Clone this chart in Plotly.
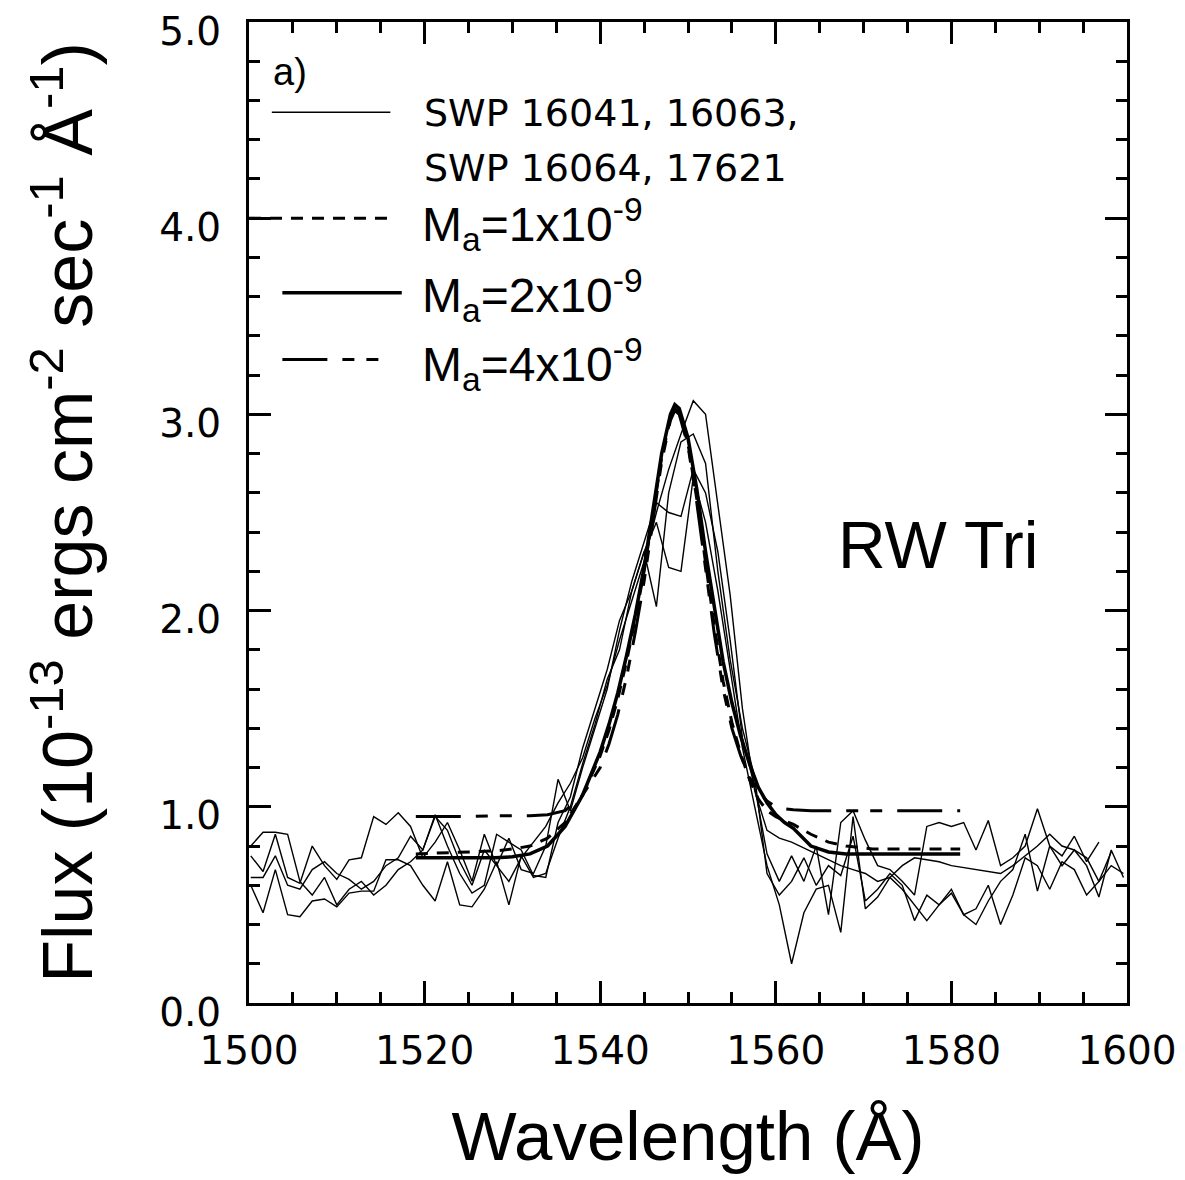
import plotly.graph_objects as go

# ---------------- data ----------------
WAVE = [1500.2, 1501.6, 1503.0, 1504.4, 1505.8, 1507.2, 1508.6, 1510.0, 1511.4, 1512.8,
        1514.2, 1515.6, 1517.0, 1518.4, 1519.8, 1521.2, 1522.6, 1524.0, 1525.4, 1526.8,
        1528.2, 1529.6, 1531.0, 1532.4, 1533.8, 1535.2, 1536.6, 1538.0, 1539.4, 1540.8,
        1542.2, 1543.6, 1545.0, 1546.4, 1547.8, 1549.2, 1550.6, 1552.0, 1553.4, 1554.8,
        1556.2, 1557.6, 1559.0, 1560.4, 1561.8, 1563.2, 1564.6, 1566.0, 1567.4, 1568.8,
        1570.2, 1571.6, 1573.0, 1574.4, 1575.8, 1577.2, 1578.6, 1580.0, 1581.4, 1582.8,
        1584.2, 1585.6, 1587.0, 1588.4, 1589.8, 1591.2, 1592.6, 1594.0, 1595.4, 1596.8,
        1598.2, 1599.6]

SWP_16041 = [0.80, 0.87, 0.87, 0.86, 0.62, 0.55, 0.64, 0.50, 0.58, 0.62,
             0.55, 0.60, 0.68, 0.72, 0.78, 0.95, 0.88, 0.72, 0.60, 0.78,
             0.70, 0.62, 0.74, 0.82, 0.90, 1.02, 1.12, 1.25, 1.45, 1.62,
             1.85, 2.05, 2.25, 2.50, 2.72, 2.90, 3.07, 3.00, 2.55, 2.08,
             1.50, 1.08, 0.88, 0.84, 0.82, 0.79, 0.76, 0.73, 0.70, 0.68,
             0.66, 0.62, 0.64, 0.70, 0.74, 0.73, 0.72, 0.70, 0.69, 0.68,
             0.67, 0.66, 0.70, 0.75, 0.80, 0.86, 0.80, 0.78, 0.74, 0.62,
             0.70, 0.66]

SWP_16063 = [0.75, 0.67, 0.86, 0.64, 0.61, 0.80, 0.70, 0.63, 0.73, 0.74,
             0.95, 0.91, 0.97, 0.90, 0.74, 0.82, 0.92, 0.78, 0.62, 0.86,
             0.70, 0.84, 0.68, 0.66, 0.80, 1.14, 0.98, 1.20, 1.40, 1.60,
             1.90, 2.15, 2.35, 2.55, 2.50, 2.48, 2.72, 2.60, 2.30, 1.85,
             1.35, 1.10, 0.76, 0.62, 0.75, 0.62, 0.80, 0.45, 0.92, 0.98,
             0.83, 0.70, 0.68, 0.62, 0.55, 0.90, 0.92, 0.90, 0.92, 0.78,
             0.93, 0.70, 0.74, 0.80, 0.99, 0.80, 0.75, 0.85, 0.72, 0.82]

SWP_16064 = [0.64, 0.64, 0.75, 0.60, 0.58, 0.68, 0.72, 0.66, 0.63, 0.58,
             0.62, 0.70, 0.74, 0.85, 0.78, 0.96, 0.80, 0.66, 0.56, 0.60,
             0.86, 0.82, 0.78, 0.65, 0.64, 0.92, 1.05, 1.30, 1.50, 1.70,
             1.95, 2.10, 2.30, 2.45, 2.22, 2.20, 2.68, 2.45, 2.10, 1.70,
             1.30, 1.00, 0.70, 0.50, 0.20, 0.46, 0.58, 0.60, 0.36, 0.95,
             0.48, 0.54, 0.64, 0.58, 0.50, 0.42, 0.50, 0.58, 0.45, 0.48,
             0.60, 0.40, 0.55, 0.74, 0.70, 0.58, 0.72, 0.68, 0.55, 0.62,
             0.77]

SWP_17621 = [0.60, 0.46, 0.68, 0.45, 0.44, 0.52, 0.53, 0.49, 0.56, 0.57,
             0.57, 0.73, 0.73, 0.70, 0.60, 0.52, 0.72, 0.50, 0.49, 0.58,
             0.72, 0.50, 0.75, 0.64, 0.66, 0.84, 1.00, 1.22, 1.42, 1.65,
             1.80, 2.10, 2.30, 2.02, 2.60, 2.86, 2.90, 2.75, 2.20, 1.75,
             1.40, 1.15, 0.66, 0.55, 0.62, 0.74, 0.60, 0.70, 0.65, 0.85,
             0.52, 0.58, 0.66, 0.60, 0.42, 0.55, 0.50, 0.56, 0.45, 0.40,
             0.52, 0.62, 0.68, 0.86, 0.57, 0.80, 0.70, 0.78, 0.70, 0.54,
             0.78, 0.64]

MODEL_WAVE = [1519, 1522, 1525, 1528, 1530, 1532, 1534, 1536, 1538, 1540,
              1541, 1542, 1543, 1544, 1545, 1546, 1547, 1548, 1548.5, 1549,
              1550, 1551, 1552, 1553, 1554, 1555, 1556, 1557, 1558, 1559,
              1560, 1561, 1562, 1564, 1566, 1568, 1571, 1575, 1581]

MODEL_1E9 = [0.76, 0.765, 0.77, 0.775, 0.785, 0.80, 0.84, 0.92, 1.06, 1.26,
             1.39, 1.55, 1.74, 1.96, 2.20, 2.48, 2.78, 2.98, 3.03, 3.01,
             2.85, 2.57, 2.24, 1.92, 1.64, 1.43, 1.27, 1.14, 1.04, 0.98,
             0.95, 0.93, 0.91, 0.86, 0.82, 0.80, 0.785, 0.785, 0.785]

MODEL_2E9 = [0.74, 0.74, 0.74, 0.74, 0.745, 0.76, 0.80, 0.90, 1.06, 1.28,
             1.42, 1.58, 1.77, 1.98, 2.22, 2.50, 2.80, 3.00, 3.05, 3.03,
             2.88, 2.62, 2.30, 2.02, 1.74, 1.53, 1.36, 1.22, 1.10, 1.02,
             0.96, 0.92, 0.89, 0.80, 0.77, 0.76, 0.76, 0.76, 0.76]

MODEL_4E9 = [0.95, 0.95, 0.95, 0.955, 0.955, 0.955, 0.96, 0.98, 1.06, 1.20,
             1.32, 1.47, 1.66, 1.89, 2.15, 2.45, 2.76, 2.97, 3.02, 3.00,
             2.84, 2.55, 2.20, 1.88, 1.60, 1.40, 1.26, 1.15, 1.08, 1.03,
             1.00, 0.99, 0.985, 0.98, 0.98, 0.98, 0.98, 0.98, 0.98]

X_TICKS = [1500, 1520, 1540, 1560, 1580, 1600]
Y_TICKS = [0.0, 1.0, 2.0, 3.0, 4.0, 5.0]

LEGEND_OBS = ["SWP 16041, 16063,", "SWP 16064, 17621"]
LEGEND_MODELS = ["M<sub>a</sub>=1x10<sup>-9</sup>",
                 "M<sub>a</sub>=2x10<sup>-9</sup>",
                 "M<sub>a</sub>=4x10<sup>-9</sup>"]

# ---------------- styles ----------------
SHORT_DASH = "12px,9px"
LONG_DASH = "45px,15px,12px,12px,12px,15px"
SANS = "Liberation Sans, Arial, Helvetica, sans-serif"
WIDE = "DejaVu Sans, Verdana, sans-serif"

fig = go.Figure()

spectra = [("SWP 16041", SWP_16041), ("SWP 16063", SWP_16063),
           ("SWP 16064", SWP_16064), ("SWP 17621", SWP_17621)]
for name, flux in spectra:
    fig.add_trace(go.Scatter(x=WAVE[:len(flux)], y=flux, mode="lines", name=name,
                             line=dict(color="black", width=1.4), showlegend=False))

fig.add_trace(go.Scatter(x=MODEL_WAVE, y=MODEL_1E9, mode="lines", name="Ma=1x10^-9",
                         line=dict(color="black", width=3, dash=SHORT_DASH), showlegend=False))
fig.add_trace(go.Scatter(x=MODEL_WAVE, y=MODEL_2E9, mode="lines", name="Ma=2x10^-9",
                         line=dict(color="black", width=3.5), showlegend=False))
fig.add_trace(go.Scatter(x=MODEL_WAVE, y=MODEL_4E9, mode="lines", name="Ma=4x10^-9",
                         line=dict(color="black", width=3, dash=LONG_DASH), showlegend=False))

# ---------------- legend (drawn inside the frame) ----------------
leg_lines = [
    dict(x0=0.026, x1=0.161, y=0.908, width=1.4, dash="solid"),
    dict(x0=0.000, x1=0.166, y=0.800, width=3, dash=SHORT_DASH),
    dict(x0=0.038, x1=0.174, y=0.724, width=3.5, dash="solid"),
    dict(x0=0.038, x1=0.164, y=0.656, width=3, dash=LONG_DASH),
]
for L in leg_lines:
    fig.add_shape(type="line", xref="paper", yref="paper",
                  x0=L["x0"], x1=L["x1"], y0=L["y"], y1=L["y"],
                  line=dict(color="black", width=L["width"], dash=L["dash"]))

ann = []
for txt, yy in zip(LEGEND_OBS, [0.907, 0.851]):
    ann.append(dict(text=txt, x=0.197, y=yy, xref="paper", yref="paper",
                    xanchor="left", yanchor="middle", showarrow=False,
                    font=dict(family=WIDE, size=38, color="black")))
for txt, yy in zip(LEGEND_MODELS, [0.794, 0.721, 0.651]):
    ann.append(dict(text=txt, x=0.195, y=yy, xref="paper", yref="paper",
                    xanchor="left", yanchor="middle", showarrow=False,
                    font=dict(family=SANS, size=48, color="black")))
ann.append(dict(text="a)", x=0.047, y=0.949, xref="paper", yref="paper",
                xanchor="center", yanchor="middle", showarrow=False,
                font=dict(family=SANS, size=38, color="black")))
ann.append(dict(text="RW Tri", x=0.785, y=0.467, xref="paper", yref="paper",
                xanchor="center", yanchor="middle", showarrow=False,
                font=dict(family=SANS, size=66, color="black")))

axis_common = dict(showline=True, linecolor="black", linewidth=3, mirror="allticks",
                   ticks="inside", tickcolor="black", tickwidth=2.5, ticklen=22,
                   showgrid=False, zeroline=False, ticklabeloverflow="allow",
                   automargin=False,
                   tickfont=dict(family=WIDE, size=39, color="black"))

# The page body adds an 8px offset; the figure is sized to fit the 1185x1180 window.
fig.update_layout(
    width=1177, height=1172,
    margin=dict(l=241, r=58, t=14, b=177),
    paper_bgcolor="white", plot_bgcolor="white",
    annotations=ann,
    xaxis=dict(range=[1500, 1600], tickvals=X_TICKS,
               ticktext=[str(v) for v in X_TICKS],
               minor=dict(dtick=5, ticks="inside", ticklen=11, tickwidth=2.5,
                          tickcolor="black", showgrid=False),
               ticklabelstandoff=11,
               title=dict(text="Wavelength (Å)", standoff=40,
                          font=dict(family=SANS, size=69, color="black")),
               **axis_common),
    yaxis=dict(range=[0, 5], tickvals=Y_TICKS,
               ticktext=[f"{v:.1f}" for v in Y_TICKS],
               minor=dict(dtick=0.2, ticks="inside", ticklen=11, tickwidth=2.5,
                          tickcolor="black", showgrid=False),
               ticklabelstandoff=17, ticklabelshift=9,
               title=dict(text="Flux (10<sup>-13</sup> ergs cm<sup>-2</sup> sec<sup>-1</sup> Å<sup>-1</sup>)",
                          standoff=44,
                          font=dict(family=SANS, size=70, color="black")),
               **axis_common),
)

fig.write_html("out.html")
